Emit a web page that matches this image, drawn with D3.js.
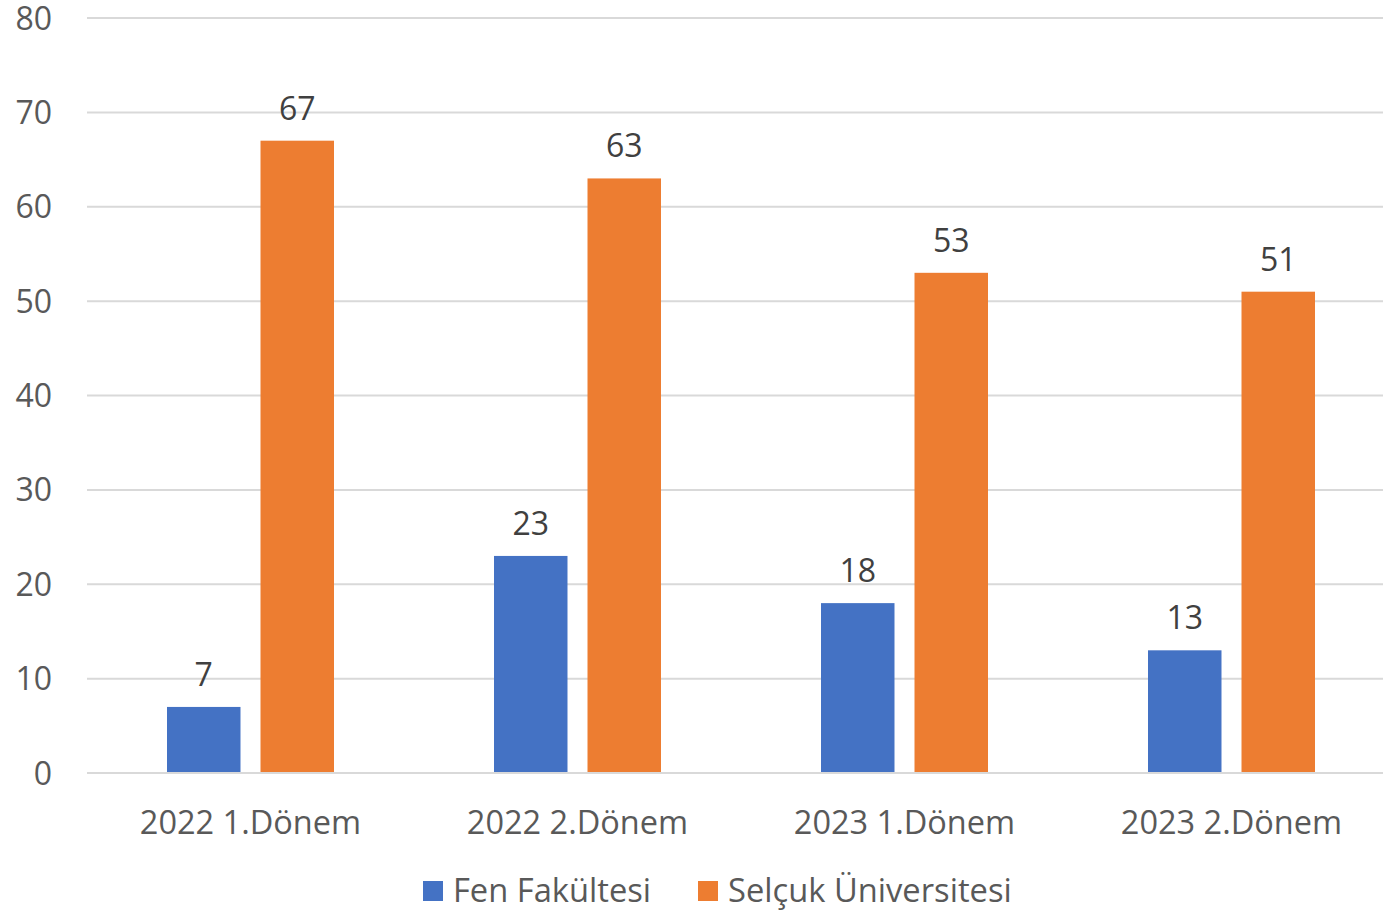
<!DOCTYPE html>
<html>
<head>
<meta charset="utf-8">
<script src="https://cdn.jsdelivr.net/npm/d3@7"></script>
<style>
  body { margin: 0; background: #fff; }
  text { font-family: "Open Sans", sans-serif; fill: #595959; }
</style>
</head>
<body>
<div id="chart"></div>
<script>
// data
const categories = ["2022 1.Dönem", "2022 2.Dönem", "2023 1.Dönem", "2023 2.Dönem"];
const seriesNames = ["Fen Fakültesi", "Selçuk Üniversitesi"];
const fenValues = [7, 23, 18, 13];
const selcukValues = [67, 63, 53, 51];
const yTicks = [0, 10, 20, 30, 40, 50, 60, 70, 80];
const colors = ["#4472C4", "#ED7D31"];

const W = 1383, H = 912;
const plotLeft = 87, plotRight = 1395, plotTop = 18, plotBottom = 773;

const svg = d3.select("#chart").append("svg")
    .attr("width", W)
    .attr("height", H);

const rows = categories.map((c, i) => ({cat: c, values: [fenValues[i], selcukValues[i]]}));

// scales
const x0 = d3.scaleBand()
    .domain(categories)
    .range([plotLeft, plotRight])
    .padding(0);

const x1 = d3.scaleBand()
    .domain(seriesNames)
    .range([80, 247])
    .paddingInner(0.214);

const y = d3.scaleLinear()
    .domain([0, 80])
    .range([plotBottom, plotTop]);

// gridlines
svg.append("g")
  .selectAll("line")
  .data(yTicks)
  .join("line")
    .attr("x1", plotLeft)
    .attr("x2", W)
    .attr("y1", d => y(d))
    .attr("y2", d => y(d))
    .attr("stroke", "#D9D9D9")
    .attr("stroke-width", 2);

// y tick labels
svg.append("g")
  .selectAll("text")
  .data(yTicks)
  .join("text")
    .attr("x", 52)
    .attr("y", d => y(d))
    .attr("dy", "0.36em")
    .attr("text-anchor", "end")
    .attr("font-size", "32px")
    .text(d => d);

// bars
const groups = svg.append("g")
  .selectAll("g")
  .data(rows)
  .join("g")
    .attr("transform", d => `translate(${x0(d.cat)},0)`);

groups.selectAll("rect")
  .data(d => d.values.map((v, i) => ({key: seriesNames[i], value: v, i: i})))
  .join("rect")
    .attr("x", d => x1(d.key))
    .attr("y", d => y(d.value))
    .attr("width", x1.bandwidth())
    .attr("height", d => y(0) - y(d.value))
    .attr("fill", d => colors[d.i]);

// data labels
groups.selectAll("text")
  .data(d => d.values.map((v, i) => ({key: seriesNames[i], value: v})))
  .join("text")
    .attr("x", d => x1(d.key) + x1.bandwidth() / 2)
    .attr("y", d => y(d.value) - 21)
    .attr("text-anchor", "middle")
    .attr("font-size", "32px")
    .style("fill", "#404040")
    .text(d => d.value);

// baseline
svg.append("line")
    .attr("x1", plotLeft)
    .attr("x2", W)
    .attr("y1", y(0))
    .attr("y2", y(0))
    .attr("stroke", "#D9D9D9")
    .attr("stroke-width", 2);

// category labels
svg.append("g")
  .selectAll("text")
  .data(categories)
  .join("text")
    .attr("x", d => x0(d) + x0.bandwidth() / 2)
    .attr("y", 834)
    .attr("text-anchor", "middle")
    .attr("font-size", "32.5px")
    .text(d => d);

// legend
const legendX = [423, 698];
const legend = svg.append("g")
  .selectAll("g")
  .data(seriesNames)
  .join("g")
    .attr("transform", (d, i) => `translate(${legendX[i]},881)`);

legend.append("rect")
    .attr("width", 20)
    .attr("height", 20)
    .attr("fill", (d, i) => colors[i]);

legend.append("text")
    .attr("x", 30)
    .attr("y", 20.5)
    .attr("font-size", "32.7px")
    .text(d => d);
</script>
</body>
</html>
